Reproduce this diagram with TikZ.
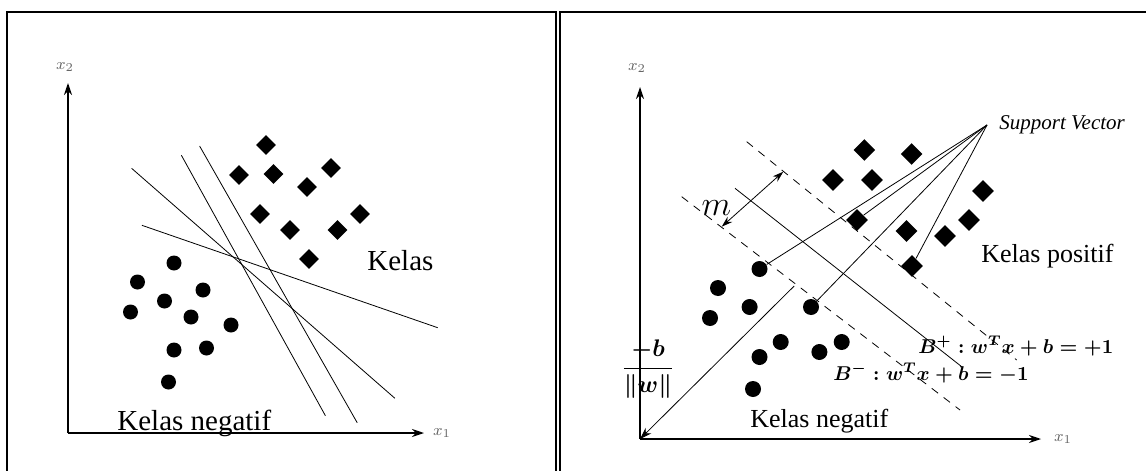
\documentclass[tikz,border=0pt]{standalone}
\usepackage{amsmath}
\usepackage{fontspec}
\setmainfont{Liberation Serif}
\usetikzlibrary{shapes.geometric, arrows.meta}
\begin{document}
\begin{tikzpicture}[x=0.5pt, y=-0.5pt, >={Stealth[length=6pt,width=4pt]},
  plusdia/.style={diamond, fill=black, inner sep=0pt, minimum size=10pt},
  minusdot/.style={circle, fill=black, inner sep=0pt, minimum size=7.5pt},
  axis/.style={line width=0.6pt, ->},
  hyper/.style={line width=0.4pt},
  margin/.style={line width=0.4pt, dash pattern=on 4pt off 3.5pt},
  axlabel/.style={text=black!60, font=\fontsize{8.5}{10}\selectfont, inner sep=0pt},
  kelas/.style={font=\fontsize{14.5}{16}\selectfont, inner sep=0pt, anchor=base west},
  eq/.style={font=\fontsize{10}{12}\selectfont\boldmath, inner sep=0pt, anchor=base west}]
\useasboundingbox (0,0) rectangle (1146,471);
\draw[line width=1pt] (6.5,471) -- (6.5,11.5) -- (556,11.5) -- (556,471);
\draw[line width=1pt] (559.5,471) -- (559.5,11.5) -- (1146,11.5);

\coordinate (oa) at (68,433);
\coordinate (ya) at (68,83);
\coordinate (xa) at (424,433);
\draw[axis] (oa) -- (ya);
\draw[axis] (oa) -- (xa);
\node[axlabel] (x2a) at (65,67) {$x_2$};
\node[axlabel] (x1a) at (442,433) {$x_1$};

\draw[hyper] (131.6,168.3) -- (394.9,398.3);
\draw[hyper] (141.9,225.3) -- (437.7,327.7);
\draw[hyper] (181.4,155.3) -- (325.4,415.7);
\draw[hyper] (199.6,146) -- (357.2,422.7);

\node[plusdia] (pa1) at (266,145) {};
\node[plusdia] (pa2) at (239,175) {};
\node[plusdia] (pa3) at (273.5,174) {};
\node[plusdia] (pa4) at (307,187) {};
\node[plusdia] (pa5) at (331,168) {};
\node[plusdia] (pa6) at (260,214) {};
\node[plusdia] (pa7) at (290,230) {};
\node[plusdia] (pa8) at (337.5,230) {};
\node[plusdia] (pa9) at (360,214) {};
\node[plusdia] (pa10) at (309,259) {};

\node[minusdot] (na1) at (174,263) {};
\node[minusdot] (na2) at (137.5,282) {};
\node[minusdot] (na3) at (203,290) {};
\node[minusdot] (na4) at (164.5,301) {};
\node[minusdot] (na5) at (130.5,312) {};
\node[minusdot] (na6) at (191,317) {};
\node[minusdot] (na7) at (231,325) {};
\node[minusdot] (na8) at (174,350) {};
\node[minusdot] (na9) at (206.5,348) {};
\node[minusdot] (na10) at (168.5,382) {};

\node[kelas] (kpa) at (367,270) {Kelas};
\node[kelas] (kna) at (117,430) {Kelas negatif};

\coordinate (ob) at (640,439);
\coordinate (yb) at (640,87);
\coordinate (xb) at (1041,439);
\draw[axis] (ob) -- (yb);
\draw[axis] (ob) -- (xb);
\node[axlabel] (x2b) at (637,68) {$x_2$};
\node[axlabel] (x1b) at (1063,439) {$x_1$};

\draw[margin] (746.7,141.7) -- (1016.7,360);
\draw[margin] (681.7,196.7) -- (960,410);
\draw[hyper] (735,188.3) -- (961.7,366.7);

\node[plusdia, minimum size=11pt] (pb1) at (864.4,150) {};
\node[plusdia, minimum size=11pt] (pb2) at (911.6,154) {};
\node[plusdia, minimum size=11pt] (pb3) at (833,180) {};
\node[plusdia, minimum size=11pt] (pb4) at (872,180) {};
\node[plusdia, minimum size=11pt] (pb5) at (983,191) {};
\node[plusdia, minimum size=11pt] (pb6) at (857,220) {};
\node[plusdia, minimum size=11pt] (pb7) at (906.5,231) {};
\node[plusdia, minimum size=11pt] (pb8) at (969,220) {};
\node[plusdia, minimum size=11pt] (pb9) at (945,236) {};
\node[plusdia, minimum size=11pt] (pb10) at (912,266) {};

\node[minusdot, minimum size=8pt] (nb1) at (759.5,269) {};
\node[minusdot, minimum size=8pt] (nb2) at (718,288) {};
\node[minusdot, minimum size=8pt] (nb3) at (749.6,307) {};
\node[minusdot, minimum size=8pt] (nb4) at (811,307) {};
\node[minusdot, minimum size=8pt] (nb5) at (710,318) {};
\node[minusdot, minimum size=8pt] (nb6) at (780.7,342) {};
\node[minusdot, minimum size=8pt] (nb7) at (841.7,342) {};
\node[minusdot, minimum size=8pt] (nb8) at (819.4,352) {};
\node[minusdot, minimum size=8pt] (nb9) at (759.5,357) {};
\node[minusdot, minimum size=8pt] (nb10) at (753,389) {};

\coordinate (m1) at (721.7,226.7);
\coordinate (m2) at (783.3,171.7);
\draw[hyper, <->, >={Stealth[length=5.5pt,width=3.5pt]}] (m1) -- (m2);
\node[font=\fontsize{16}{18}\selectfont, inner sep=0pt, anchor=base] (mlbl) at (716.5,215) {$m$};

\coordinate (bw) at (794.2,286);
\draw[hyper, ->] (bw) -- (ob);
\node[font=\fontsize{12}{14}\selectfont\boldmath, inner sep=0pt] (bwlbl) at (648,369) {$\dfrac{-b}{\|w\|}$};

\node[font=\fontsize{10.5}{12}\selectfont\itshape, inner sep=0pt, anchor=base west] (sv) at (999,129.5) {Support Vector};
\coordinate (svtip) at (987,125);
\draw[hyper] (svtip) -- (nb1);
\draw[hyper] (svtip) -- (pb6);
\draw[hyper] (svtip) -- (nb4);
\draw[hyper] (svtip) -- (pb10);

\node[eq] (bplus) at (918,353) {$B^+ : w^T x + b = +1$};
\node[eq] (bminus) at (833,380) {$B^- : w^T x + b = -1$};

\node[kelas, font=\fontsize{13}{15}\selectfont] (kpb) at (981,262) {Kelas positif};
\node[kelas, font=\fontsize{13}{15}\selectfont] (knb) at (750,427) {Kelas negatif};
\end{tikzpicture}
\end{document}
